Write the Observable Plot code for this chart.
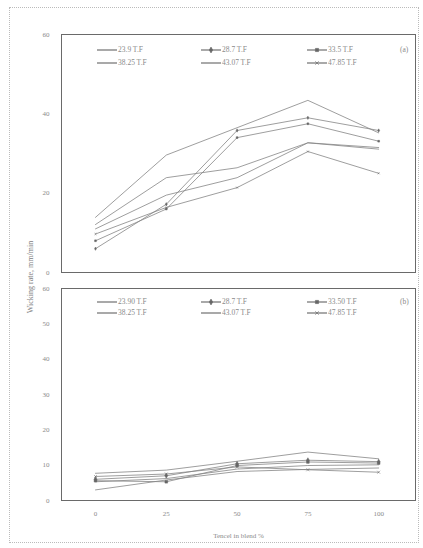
<!DOCTYPE html>
<html>
<head>
<meta charset="utf-8">
<script src="https://cdn.jsdelivr.net/npm/d3@7"></script>
<script src="https://cdn.jsdelivr.net/npm/@observablehq/plot@0.6"></script>
<style>
  html, body { margin: 0; padding: 0; background: #fff; }
  #chart { position: relative; width: 423px; height: 548px; overflow: hidden; font-family: "Liberation Serif", serif; }
  #border { position: absolute; left: 9px; top: 7px; width: 410px; height: 536px; border: 1px dotted #bbb; box-sizing: border-box; }
  .panel { position: absolute; left: 0; }
  #ytitle { position: absolute; left: 30px; top: 277px; transform: translate(-50%, -50%) rotate(-90deg); white-space: nowrap; font-size: 8px; color: #808080; }
</style>
</head>
<body>
<div id="chart">
  <div id="border"></div>
  <div id="panelA" class="panel" style="top:0"></div>
  <div id="panelB" class="panel" style="top:276px"></div>
  <div id="ytitle">Wicking rate, mm/min</div>
</div>
<script>
// Tencel share in the blend (%)
const tencel = [0, 25, 50, 75, 100];
const xTicks = [0, 25, 50, 75, 100];

// Panel (a): wicking rate by twist factor
const labelsA = ["23.9 T.F", "28.7 T.F", "33.5 T.F", "38.25 T.F", "43.07 T.F", "47.85 T.F"];
const rateA_23_9  = [13.9, 29.6, 36.5, 43.4, 35.2];
const rateA_28_7  = [6.0, 17.2, 35.8, 39.0, 35.8];
const rateA_33_5  = [8.0, 16.0, 34.0, 37.5, 33.1];
const rateA_38_25 = [12.1, 23.9, 26.4, 32.7, 31.1];
const rateA_43_07 = [11.0, 19.5, 23.9, 32.7, 31.5];
const rateA_47_85 = [9.7, 16.4, 21.4, 30.5, 25.0];
const yTicksA = [0, 20, 40, 60];

// Panel (b): wicking rate by twist factor
const labelsB = ["23.90 T.F", "28.7 T.F", "33.50 T.F", "38.25 T.F", "43.07 T.F", "47.85 T.F"];
const rateB_23_90 = [7.7, 8.6, 11.1, 13.7, 11.8];
const rateB_28_7  = [6.0, 7.0, 10.4, 11.4, 11.0];
const rateB_33_50 = [5.6, 5.3, 9.9, 10.9, 10.6];
const rateB_38_25 = [5.3, 6.2, 8.9, 9.9, 10.1];
const rateB_43_07 = [3.0, 5.8, 8.2, 8.8, 9.2];
const rateB_47_85 = [6.8, 7.5, 9.5, 8.7, 8.0];
const yTicksB = [0, 10, 20, 30, 40, 50, 60];

// Marker used by each series (null = plain line)
const markers = [null, "diamond", "square", null, null, "times"];

function toRows(labels, seriesList) {
  const rows = [];
  seriesList.forEach((vals, i) => {
    vals.forEach((v, j) => rows.push({tencel: tencel[j], rate: v, series: labels[i], marker: markers[i]}));
  });
  return rows;
}

const rowsA = toRows(labelsA, [rateA_23_9, rateA_28_7, rateA_33_5, rateA_38_25, rateA_43_07, rateA_47_85]);
const rowsB = toRows(labelsB, [rateB_23_90, rateB_28_7, rateB_33_50, rateB_38_25, rateB_43_07, rateB_47_85]);

const lineColor = "#858585";
const textColor = "#8a8a8a";

function seriesMarks(rows, r) {
  const withMarker = rows.filter(d => d.marker);
  return [
    Plot.line(rows, {x: "tencel", y: "rate", z: "series", stroke: lineColor, strokeWidth: 0.8, curve: "linear"}),
    Plot.dot(withMarker, {x: "tencel", y: "rate", symbol: "marker", r, fill: "#666", stroke: "#666", strokeWidth: 0.5})
  ];
}

// Legend drawn inside the frame: three columns, two rows
function addLegend(svg, labels, frameTop, rowOffsets, tag) {
  const g = d3.select(svg).append("g")
    .attr("font-family", "Liberation Serif, serif").attr("font-size", 7.5)
    .attr("fill", textColor).attr("text-anchor", "start");
  const colX = [97, 201, 307];
  labels.forEach((lab, i) => {
    const col = i % 3, row = Math.floor(i / 3);
    const y = frameTop + rowOffsets[row];
    const x0 = colX[col];
    g.append("line").attr("x1", x0).attr("x2", x0 + 20).attr("y1", y).attr("y2", y)
      .attr("stroke", "#6f6f6f").attr("stroke-width", 1.2);
    if (markers[i]) {
      const sym = {diamond: d3.symbolDiamond, square: d3.symbolSquare, times: d3.symbolTimes}[markers[i]];
      g.append("path").attr("d", d3.symbol(sym, 10)()).attr("transform", `translate(${x0 + 10},${y})`)
        .attr("fill", "#666").attr("stroke", "#666").attr("stroke-width", 0.6);
    }
    g.append("text").attr("x", x0 + 21).attr("y", y).attr("dy", "0.32em").text(lab);
  });
  g.append("text").attr("x", 400).attr("y", frameTop + rowOffsets[0]).attr("dy", "0.32em").text(tag);
}

const baseStyle = {fontFamily: "Liberation Serif, serif", fontSize: "7px", color: textColor, background: "transparent", overflow: "visible"};

const plotA = Plot.plot({
  width: 423, height: 276,
  marginLeft: 61, marginRight: 8, marginTop: 34, marginBottom: 4,
  style: baseStyle,
  x: {domain: [-12, 113], axis: null},
  y: {domain: [0, 60], ticks: yTicksA, tickSize: 0, tickPadding: 12, label: null},
  marks: [
    Plot.frame({stroke: "#6a6a6a", strokeWidth: 1}),
    ...seriesMarks(rowsA, 1.0)
  ]
});
addLegend(plotA, labelsA, 34, [16, 29], "(a)");
document.getElementById("panelA").appendChild(plotA);

const plotB = Plot.plot({
  width: 423, height: 272,
  marginLeft: 61, marginRight: 8, marginTop: 12, marginBottom: 48,
  style: baseStyle,
  x: {domain: [-12, 113], ticks: xTicks, tickSize: 0, tickPadding: 11,
      label: "Tencel in blend %", labelAnchor: "center", labelArrow: "none", labelOffset: 37},
  y: {domain: [0, 60], ticks: yTicksB, tickSize: 0, tickPadding: 12, label: null},
  marks: [
    Plot.frame({stroke: "#6a6a6a", strokeWidth: 1}),
    ...seriesMarks(rowsB, 1.5)
  ]
});
addLegend(plotB, labelsB, 12, [14, 25], "(b)");
document.getElementById("panelB").appendChild(plotB);
</script>
</body>
</html>
